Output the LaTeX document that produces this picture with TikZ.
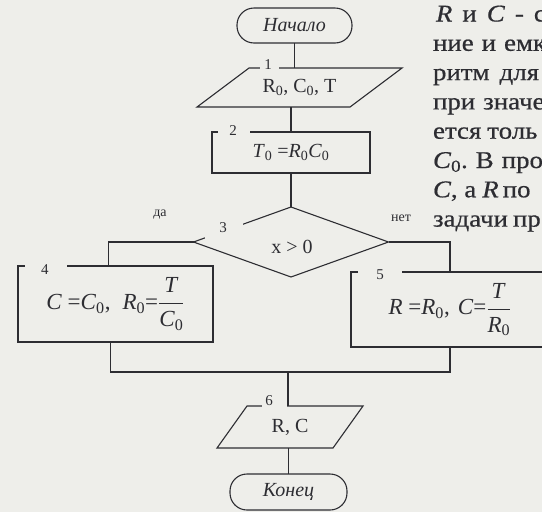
\documentclass[tikz,border=0pt]{standalone}
\usepackage{fontspec}
\setmainfont{Liberation Serif}
\newfontfamily\bodyfont[FakeStretch=1.12,FakeBold=0.6]{Liberation Serif}
\usetikzlibrary{shapes.geometric,calc}
\definecolor{bg}{RGB}{238,238,234}
\definecolor{ink}{RGB}{45,45,50}
\newcommand\lo[1]{\textsubscript{#1}}
\newcommand\fr[2]{$\displaystyle\frac{\mbox{#1}}{\mbox{#2}}$}
\begin{document}
\begin{tikzpicture}[x=1pt,y=-1pt,line width=1.1pt,draw=ink,
  every node/.style={inner sep=0pt,outer sep=0pt,text=ink},
  lbl/.style={font=\fontsize{20}{22}\selectfont},
  term/.style={lbl,draw,rectangle,rounded corners=17pt,minimum width=115pt,minimum height=35pt,font=\fontsize{20}{22}\selectfont\itshape},
  iobody/.style={lbl},
  proc/.style={lbl,draw,rectangle},
  formula/.style={font=\fontsize{23}{25}\selectfont},
  cond/.style={draw,diamond,minimum width=195pt,minimum height=70pt},
  num/.style={font=\fontsize{15}{15}\selectfont},
  ans/.style={font=\fontsize{14}{14}\selectfont},
  body/.style={anchor=base west,font=\fontsize{24}{24}\bodyfont},
  gap/.style={fill=bg,draw=none}
]
\path[use as bounding box,fill=bg] (0,0) rectangle (542,512);
\clip (0,0) rectangle (542,512);

% nodes
\node[term] (start) at (294.5,25.5) {Начало};
\node[iobody,minimum width=153pt,minimum height=39pt] (p1) at (299.5,87.5) {R\lo{0}, C\lo{0}, T};
\draw ($(p1.south west)+(-26,0)$) -- ($(p1.north west)+(26,0)$) -- ($(p1.north east)+(26,0)$) -- ($(p1.south east)+(-26,0)$) -- cycle;
\node[proc,minimum width=158pt,minimum height=41pt] (b2) at (291,152.5) {\textit{T}\lo{0} =\textit{R}\lo{0}\textit{C}\lo{0}};
\node[cond] (d3) at (291,242) {};
\node[lbl] (d3t) at (292,247) {x > 0};
\node[proc,formula,minimum width=195pt,minimum height=76pt] (b4) at (115.5,304) {\textit{C} =\textit{C}\lo{0},\hspace{12pt}\textit{R}\lo{0}=\fr{\textit{T}}{\textit{C}\lo{0}}};
\node[proc,formula,minimum width=198pt,minimum height=75pt] (b5) at (450,309.5) {\textit{R} =\textit{R}\lo{0},\hspace{8pt}\textit{C}=\fr{\textit{T}}{\textit{R}\lo{0}}};
\node[iobody,minimum width=116pt,minimum height=42pt] (p6) at (290,427) {R, C};
\draw ($(p6.south west)+(-15,0)$) -- ($(p6.north west)+(15,0)$) -- ($(p6.north east)+(15,0)$) -- ($(p6.south east)+(-15,0)$) -- cycle;
\node[term,minimum width=117pt,minimum height=36pt] (fin) at (288.5,492) {Конец};
\coordinate (mrg) at (288,372);

% connectors
\draw (start.south) -- (start.south |- p1.north);
\draw (b2.north |- p1.south) -- (b2.north);
\draw (b2.south) -- (d3.north);
\draw (d3.west) -| ([xshift=-7pt]b4.north);
\draw (d3.east) -| (b5.north);
\draw ([xshift=-5pt]b4.south) |- (mrg) -| (b5.south);
\draw (mrg) -- (mrg |- p6.north);
\draw (fin.north |- p6.south) -- (fin.north);

% gaps for the numbers
\fill[gap] (260,62) rectangle (279,74);
\fill[gap] (218,126) rectangle (250,138);
\fill[gap] (205,221) rectangle (243,240);
\fill[gap] (25,260) rectangle (67,272);
\fill[gap] (358,266) rectangle (402,278);
\fill[gap] (262,400) rectangle (287,412);

\node[num] (n1) at (268,65) {1};
\node[num] (n2) at (233,131) {2};
\node[num] (n3) at (223,228) {3};
\node[num] (n4) at (45,270) {4};
\node[num] (n5) at (380,275) {5};
\node[num] (n6) at (269,401) {6};
\node[ans] (yes) at (160,215) {да};
\node[ans] (no) at (401,218) {нет};

% text of the page
\node[body] (t1) at (436,21.5) {\textit{R}\hspace{10pt}и\hspace{10pt}\textit{C}\hspace{10pt}-\hspace{10pt}с};
\node[body] (t2) at (433,50.8) {ние\hspace{8pt}и\hspace{8pt}емк};
\node[body] (t3) at (433,80.1) {ритм\hspace{10pt}для};
\node[body] (t4) at (433,109.4) {при\hspace{8pt}значе};
\node[body] (t5) at (433,138.7) {ется\hspace{6pt}толь};
\node[body] (t6) at (433,168) {\textit{C}\lo{0}.\hspace{8pt}В\hspace{8pt}про};
\node[body] (t7) at (433,197.3) {\textit{C}, а\hspace{6pt}\textit{R}\hspace{4pt}по};
\node[body] (t8) at (433,226.6) {задачи\hspace{5pt}пр};
\end{tikzpicture}
\end{document}
